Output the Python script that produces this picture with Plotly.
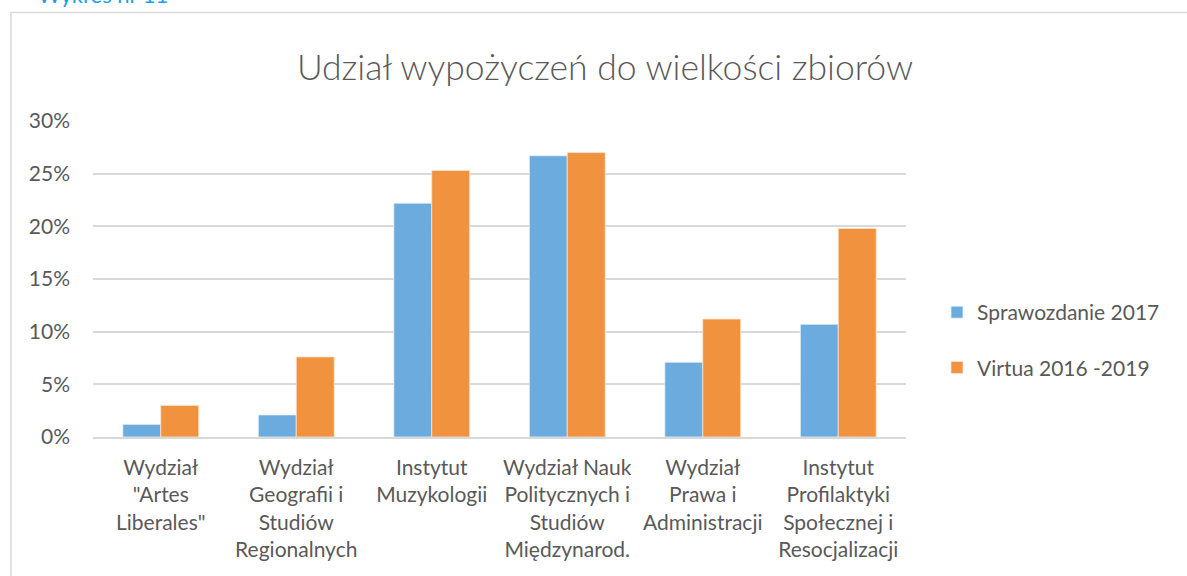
import plotly.graph_objects as go

categories = [
    "Wydział<br>\"Artes<br>Liberales\"",
    "Wydział<br>Geografii i<br>Studiów<br>Regionalnych",
    "Instytut<br>Muzykologii",
    "Wydział Nauk<br>Politycznych i<br>Studiów<br>Międzynarod.",
    "Wydział<br>Prawa i<br>Administracji",
    "Instytut<br>Profilaktyki<br>Społecznej i<br>Resocjalizacji",
]
sprawozdanie_2017 = [0.012, 0.021, 0.222, 0.267, 0.071, 0.107]
virtua_2016_2019 = [0.030, 0.076, 0.253, 0.270, 0.112, 0.198]
series_names = ["Sprawozdanie 2017", "Virtua 2016 -2019"]
tick_vals = [0, 0.05, 0.10, 0.15, 0.20, 0.25, 0.30]
tick_text = ["0%", "5%", "10%", "15%", "20%", "25%", "30%"]

FONT = "Lato"
TXT = "#595959"

fig = go.Figure()
fig.add_trace(go.Bar(x=categories, y=sprawozdanie_2017, name=series_names[0],
                     legendgroup="a",
                     marker=dict(color="#6CABDD", line=dict(color="#E8F1F9", width=0.8))))
fig.add_trace(go.Bar(x=categories, y=virtua_2016_2019, name=series_names[1],
                     legendgroup="b",
                     marker=dict(color="#F1923F", line=dict(color="#FBE3CF", width=0.8))))

L, R, T, B = 93, 906, 121, 437
W, H = 1187, 576
pw, ph = R - L, B - T

def px(x):
    return (x - L) / pw

def py(y):
    return (B - y) / ph

fig.update_layout(
    width=W, height=H,
    margin=dict(l=L, r=W - R, t=T, b=H - B, pad=0),
    paper_bgcolor="white", plot_bgcolor="white",
    barmode="group", bargap=0.44, bargroupgap=0,
    font=dict(family=FONT, size=21, color=TXT),
    title=dict(text="Udział wypożyczeń do wielkości zbiorów",
               font=dict(family=FONT, size=35.5, color=TXT, weight=300),
               x=px(605), xref="paper", xanchor="center",
               y=1 - 68 / H, yref="container", yanchor="middle"),
    legend=dict(x=px(937), y=py(340), xanchor="left", yanchor="middle",
                font=dict(family=FONT, size=21, color=TXT),
                tracegroupgap=25, itemwidth=30, bgcolor="rgba(0,0,0,0)"),
    showlegend=True,
    xaxis=dict(showgrid=False, showline=True, linecolor="#D9D9D9", linewidth=1.5,
               ticks="", tickfont=dict(family=FONT, size=21, color=TXT),
               ticklabelstandoff=11, fixedrange=True),
    yaxis=dict(range=[0, 0.30], tickvals=tick_vals, ticktext=tick_text,
               showgrid=True, gridcolor="#D9D9D9", gridwidth=1.5,
               zeroline=False, showline=False, ticks="",
               tickfont=dict(family=FONT, size=21, color=TXT),
               ticklabelstandoff=22, fixedrange=True),
    shapes=[dict(type="rect", xref="paper", yref="paper",
                 x0=px(11), x1=px(1200), y0=py(590), y1=py(12.5),
                 line=dict(color="#D9D9D9", width=1.5), fillcolor="rgba(0,0,0,0)",
                 layer="below")],
    annotations=[dict(text="Wykres nr 11", xref="paper", yref="paper",
                      x=px(36), y=py(10), xanchor="left", yanchor="bottom",
                      showarrow=False, font=dict(family=FONT, size=22, color="#1BA1E2"))],
)

fig.write_html("out.html", config={"displayModeBar": False},
               post_script="document.body.style.margin='0px';document.body.style.overflow='hidden';")
